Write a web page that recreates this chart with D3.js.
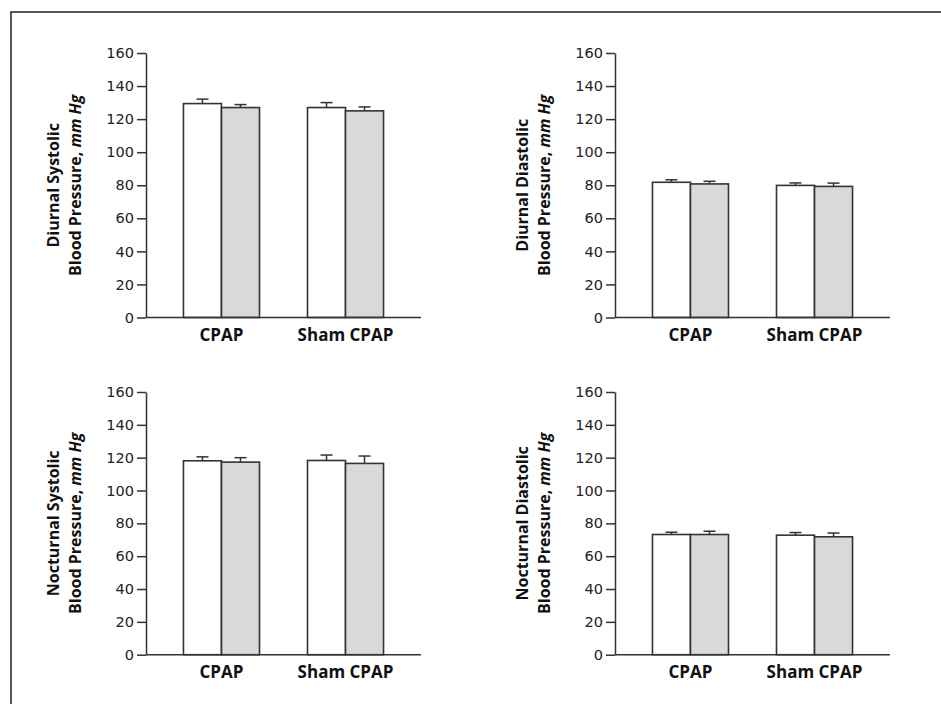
<!DOCTYPE html>
<html>
<head>
<meta charset="utf-8">
<script src="https://cdn.jsdelivr.net/npm/d3@7"></script>
<style>
  body { margin: 0; background: #fff; }
  svg { display: block; font-family: "Open Sans", "Noto Sans", sans-serif; }
</style>
</head>
<body>
<svg width="941" height="704"></svg>
<script>
// Data
var categories = ["CPAP", "Sham CPAP"];
var yTicks = [0, 20, 40, 60, 80, 100, 120, 140, 160];
var titleLine1 = ["Diurnal Systolic", "Diurnal Diastolic", "Nocturnal Systolic", "Nocturnal Diastolic"];
// per panel: [CPAP, Sham CPAP]
var whiteMeans = [[129.4, 127.0], [81.8, 79.9], [118.1, 118.3], [73.2, 72.8]];
var whiteErr   = [[2.7, 3.0],     [1.5, 1.5],   [2.4, 3.3],     [1.4, 1.6]];
var grayMeans  = [[127.0, 125.0], [80.8, 79.3], [117.3, 116.5], [73.2, 71.8]];
var grayErr    = [[1.8, 2.4],     [1.6, 2.0],   [2.7, 4.5],     [2.0, 2.3]];

var svg = d3.select("svg");

// frame (only top and left edges show)
svg.append("rect")
    .attr("x", 11).attr("y", 12)
    .attr("width", 1000).attr("height", 800)
    .attr("fill", "none")
    .attr("stroke", "#222")
    .attr("stroke-width", 1.5);

var panelPos = [
  { x: 146, top: 53, bottom: 317.5 },
  { x: 615, top: 53, bottom: 317.5 },
  { x: 146, top: 392, bottom: 654.7 },
  { x: 615, top: 392, bottom: 654.7 }
];
var plotW = 275;
var axisColor = "#333";

panelPos.forEach(function (p, i) {
  var g = svg.append("g").attr("transform", "translate(" + p.x + ",0)");

  var y = d3.scaleLinear().domain([0, 160]).range([p.bottom, p.top]);
  var x = d3.scaleBand().domain(categories).range([0, plotW])
      .paddingInner(0.387).paddingOuter(0.302);
  var xs = d3.scaleBand().domain([0, 1]).range([0, x.bandwidth()]);

  var rows = categories.map(function (c, j) {
    return [
      { cat: c, k: 0, v: whiteMeans[i][j], e: whiteErr[i][j], fill: "#fff" },
      { cat: c, k: 1, v: grayMeans[i][j], e: grayErr[i][j], fill: "#d9d9d9" }
    ];
  }).flat();

  // error bars (upper only)
  var eb = g.append("g").selectAll("g").data(rows).enter().append("g")
      .attr("stroke", axisColor).attr("stroke-width", 1.5);
  eb.append("line")
      .attr("x1", function (d) { return x(d.cat) + xs(d.k) + xs.bandwidth() / 2; })
      .attr("x2", function (d) { return x(d.cat) + xs(d.k) + xs.bandwidth() / 2; })
      .attr("y1", function (d) { return y(d.v); })
      .attr("y2", function (d) { return y(d.v + d.e); });
  eb.append("line")
      .attr("x1", function (d) { return x(d.cat) + xs(d.k) + xs.bandwidth() / 2 - 6; })
      .attr("x2", function (d) { return x(d.cat) + xs(d.k) + xs.bandwidth() / 2 + 6; })
      .attr("y1", function (d) { return y(d.v + d.e); })
      .attr("y2", function (d) { return y(d.v + d.e); });

  // bars
  g.append("g").selectAll("rect").data(rows).enter().append("rect")
      .attr("x", function (d) { return x(d.cat) + xs(d.k); })
      .attr("y", function (d) { return y(d.v); })
      .attr("width", xs.bandwidth())
      .attr("height", function (d) { return y(0) - y(d.v); })
      .attr("fill", function (d) { return d.fill; })
      .attr("stroke", axisColor)
      .attr("stroke-width", 1.6);

  // y axis
  var ya = g.append("g")
      .call(d3.axisLeft(y).tickValues(yTicks).tickSize(9).tickSizeOuter(0).tickPadding(3));
  ya.select(".domain").attr("stroke", axisColor).attr("stroke-width", 1.5);
  ya.selectAll(".tick line").attr("stroke", axisColor).attr("stroke-width", 1.5);
  ya.selectAll(".tick text").attr("font-size", 14.5).attr("fill", "#222")
      .attr("font-family", "'DejaVu Sans', sans-serif");

  // x axis line
  g.append("line")
      .attr("x1", 0).attr("x2", plotW)
      .attr("y1", y(0)).attr("y2", y(0))
      .attr("stroke", axisColor).attr("stroke-width", 1.5);

  // category labels
  g.append("g").selectAll("text").data(categories).enter().append("text")
      .attr("x", function (d) { return x(d) + x.bandwidth() / 2; })
      .attr("y", y(0) + 23)
      .attr("text-anchor", "middle")
      .attr("font-size", 17)
      .attr("font-weight", "bold")
      .attr("fill", "#111")
      .text(function (d) { return d; });

  // y title
  var cy = (p.top + p.bottom) / 2;
  g.append("text")
      .attr("transform", "translate(-87," + cy + ") rotate(-90)")
      .attr("text-anchor", "middle")
      .attr("font-size", 16).attr("font-weight", "bold").attr("fill", "#111")
      .text(titleLine1[i]);
  var t2 = g.append("text")
      .attr("transform", "translate(-65," + cy + ") rotate(-90)")
      .attr("text-anchor", "middle")
      .attr("font-size", 16).attr("font-weight", "bold").attr("fill", "#111");
  t2.append("tspan").text("Blood Pressure, ");
  t2.append("tspan").attr("font-style", "italic").text("mm Hg");
});
</script>
</body>
</html>
